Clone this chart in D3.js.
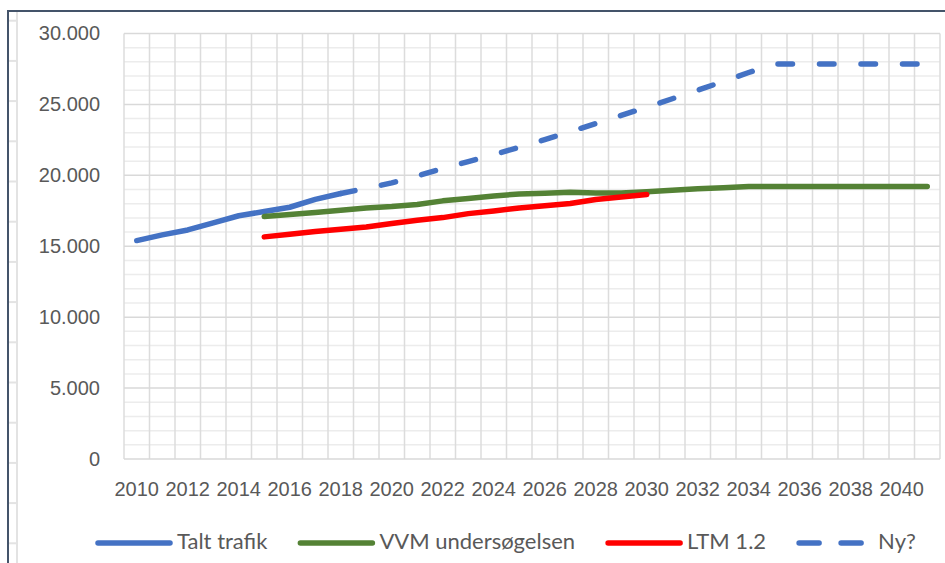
<!DOCTYPE html>
<html>
<head>
<meta charset="utf-8">
<script src="https://cdn.jsdelivr.net/npm/d3@7"></script>
<style>
  html, body { margin: 0; padding: 0; background: #fff; }
  svg { display: block; font-family: Lato, "Open Sans", sans-serif; }
  .axis text { fill: #595959; font-size: 20px; }
  .legend text { fill: #595959; font-size: 22px; }
</style>
</head>
<body>
<div id="chart"></div>
<script>
// traffic per year
const years = d3.range(2010, 2042);
const yTicks = [0, 5000, 10000, 15000, 20000, 25000, 30000];

const taltYears = d3.range(2010, 2019);
const taltVals  = [15400, 15800, 16150, 16650, 17150, 17450, 17750, 18300, 18720];

const vvmYears = d3.range(2015, 2042);
const vvmVals  = [17100, 17240, 17380, 17540, 17700, 17800, 17940, 18200, 18360, 18550,
                  18690, 18740, 18800, 18760, 18760, 18850, 18950, 19050, 19130, 19220,
                  19220, 19220, 19220, 19220, 19220, 19220, 19220];

const ltmYears = d3.range(2015, 2031);
const ltmVals  = [15660, 15850, 16040, 16200, 16360, 16600, 16830, 17020, 17300, 17490,
                  17700, 17850, 18010, 18300, 18480, 18650];

const nyYears = d3.range(2018, 2042);
const nyVals  = [18720, 19080, 19470, 19960, 20480, 20970, 21460, 21980, 22520, 23080,
                 23650, 24230, 24800, 25400, 26000, 26620, 27250, 27850, 27850, 27850,
                 27850, 27850, 27850, 27850];

const series = [
  { name: 'Talt trafik',        color: '#4472c4', dash: null,      years: taltYears, vals: taltVals },
  { name: 'VVM undersøgelsen',  color: '#548235', dash: null,      years: vvmYears,  vals: vvmVals },
  { name: 'LTM 1.2',            color: '#ff0000', dash: null,      years: ltmYears,  vals: ltmVals },
  { name: 'Ny?',                color: '#4472c4', dash: '14.5 27', years: nyYears,   vals: nyVals }
];

const W = 945, H = 563;
const P = { left: 124, right: 940, top: 33.5, bottom: 459 };

const svg = d3.select('#chart').append('svg')
  .attr('width', W).attr('height', H);

// spreadsheet cells peeking out on the left + chart frame
const rows = d3.range(14).map(i => 20.7 + i * 40.2);
svg.append('line')
  .attr('x1', 17).attr('x2', 17).attr('y1', 11).attr('y2', H)
  .attr('stroke', '#e3e3e3').attr('stroke-width', 2);
svg.selectAll('.row').data(rows).join('line')
  .attr('class', 'row')
  .attr('x1', 9).attr('x2', 17).attr('y1', d => d).attr('y2', d => d)
  .attr('stroke', '#e3e3e3').attr('stroke-width', 2);
svg.append('path')
  .attr('d', `M8,${H} V11 H${W}`)
  .attr('fill', 'none').attr('stroke', '#44546a').attr('stroke-width', 2);

const x = d3.scaleBand().domain(years).range([P.left, P.right]).padding(0);
const y = d3.scaleLinear().domain([0, 30000]).range([P.bottom, P.top]);
const cx = yr => x(yr) + x.bandwidth() / 2;

// gridlines
const grid = svg.append('g');
grid.selectAll('.hmin').data(d3.range(0, 30001, 1000).filter(v => v % 5000))
  .join('line').attr('class', 'hmin')
  .attr('x1', P.left).attr('x2', P.right)
  .attr('y1', d => y(d)).attr('y2', d => y(d))
  .attr('stroke', '#ececec').attr('stroke-width', 1.5);
grid.selectAll('.v').data(years.concat([null]))
  .join('line').attr('class', 'v')
  .attr('x1', d => d === null ? P.right : x(d))
  .attr('x2', d => d === null ? P.right : x(d))
  .attr('y1', P.top).attr('y2', P.bottom)
  .attr('stroke', '#dcdcdc').attr('stroke-width', 1.5);
grid.selectAll('.hmaj').data(yTicks)
  .join('line').attr('class', 'hmaj')
  .attr('x1', P.left).attr('x2', P.right)
  .attr('y1', d => y(d)).attr('y2', d => y(d))
  .attr('stroke', '#d9d9d9').attr('stroke-width', 1.5);

// axes
const da = d3.formatLocale({ decimal: ',', thousands: '.', grouping: [3], currency: ['', ''] });
svg.append('g').attr('class', 'axis')
  .attr('transform', `translate(${P.left},0)`)
  .call(d3.axisLeft(y).tickValues(yTicks).tickSize(0).tickPadding(24).tickFormat(da.format(',')))
  .call(g => g.select('.domain').remove());
svg.append('g').attr('class', 'axis')
  .attr('transform', `translate(0,${P.bottom})`)
  .call(d3.axisBottom(x).tickValues(years.filter(d => d % 2 === 0)).tickSize(0).tickPadding(23))
  .call(g => g.select('.domain').remove());

// lines
const line = d3.line().x(d => cx(d[0])).y(d => y(d[1]));
svg.append('g').selectAll('path').data(series).join('path')
  .attr('d', s => line(d3.zip(s.years, s.vals)))
  .attr('fill', 'none')
  .attr('stroke', s => s.color)
  .attr('stroke-width', 5.5)
  .attr('stroke-linecap', 'round')
  .attr('stroke-linejoin', 'round')
  .attr('stroke-dasharray', s => s.dash);

// legend
const lg = svg.append('g').attr('class', 'legend');
let lx = 98;
series.forEach(s => {
  lg.append('line')
    .attr('x1', lx).attr('x2', lx + 72).attr('y1', 543).attr('y2', 543)
    .attr('stroke', s.color).attr('stroke-width', 5.5)
    .attr('stroke-linecap', 'round')
    .attr('stroke-dasharray', s.dash ? '20 22' : null);
  const t = lg.append('text')
    .attr('x', lx + 79).attr('y', 549)
    .text(s.name);
  lx += 79 + t.node().getComputedTextLength() + 33;
});
</script>
</body>
</html>
